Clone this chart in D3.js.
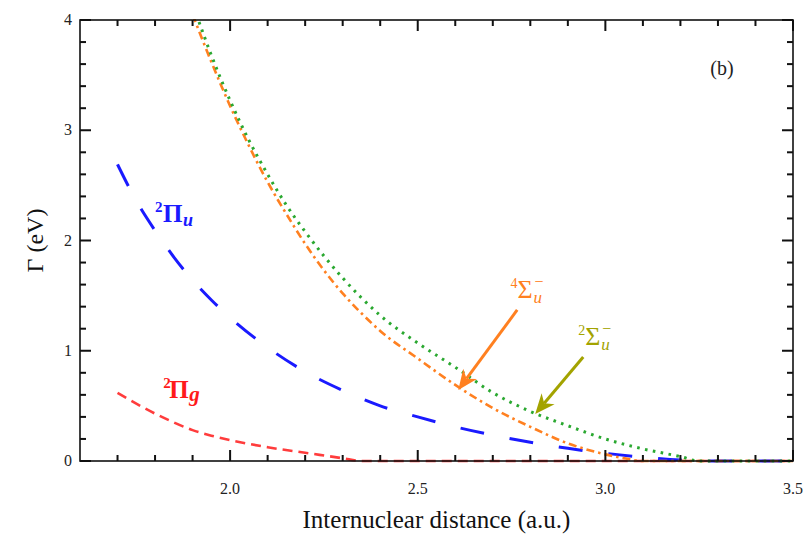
<!DOCTYPE html>
<html>
<head>
<meta charset="utf-8">
<script src="https://cdn.jsdelivr.net/npm/d3@7"></script>
<style>
  html, body { margin: 0; padding: 0; background: #fff; }
  svg { display: block; font-family: "Liberation Serif", "Times New Roman", serif; }
</style>
</head>
<body>
<svg id="chart" width="811" height="538"></svg>
<script>
// Autoionization width Γ (eV) versus internuclear distance R (a.u.)

// ²Πu
const piU_R     = [1.70, 1.75, 1.80, 1.85, 1.90, 1.95, 2.00, 2.10, 2.20, 2.30, 2.40, 2.50, 2.60, 2.70, 2.80, 2.90, 3.00, 3.10, 3.20, 3.25, 3.50];
const piU_Gamma = [2.69, 2.36, 2.09, 1.85, 1.64, 1.46, 1.30, 1.03, 0.81, 0.64, 0.50, 0.40, 0.31, 0.235, 0.17, 0.115, 0.07, 0.035, 0.008, 0, 0];

// ²Πg
const piG_R     = [1.70, 1.75, 1.80, 1.85, 1.90, 1.95, 2.00, 2.10, 2.20, 2.30, 2.35, 3.50];
const piG_Gamma = [0.617, 0.52, 0.43, 0.35, 0.28, 0.23, 0.19, 0.125, 0.075, 0.025, 0, 0];

// ⁴Σu⁻
const sigma4_R     = [1.90, 1.95, 2.00, 2.05, 2.10, 2.15, 2.20, 2.25, 2.30, 2.35, 2.40, 2.50, 2.60, 2.70, 2.80, 2.90, 3.00, 3.05, 3.10, 3.50];
const sigma4_Gamma = [4.05, 3.62, 3.22, 2.86, 2.53, 2.24, 1.97, 1.73, 1.52, 1.34, 1.18, 0.93, 0.69, 0.48, 0.31, 0.16, 0.06, 0.025, 0, 0];

// ²Σu⁻
const sigma2_R     = [1.91, 1.95, 2.00, 2.05, 2.10, 2.15, 2.20, 2.25, 2.30, 2.35, 2.40, 2.50, 2.60, 2.70, 2.80, 2.90, 3.00, 3.10, 3.20, 3.25, 3.50];
const sigma2_Gamma = [4.05, 3.68, 3.27, 2.91, 2.60, 2.32, 2.08, 1.86, 1.66, 1.48, 1.32, 1.07, 0.85, 0.62, 0.45, 0.32, 0.20, 0.11, 0.04, 0, 0];

// axis ticks
const xMajorTicks = [2.0, 2.5, 3.0, 3.5];
const xTickLabels = ["2.0", "2.5", "3.0", "3.5"];
const xMinorTicks = [1.7, 1.8, 1.9, 2.1, 2.2, 2.3, 2.4, 2.6, 2.7, 2.8, 2.9, 3.1, 3.2, 3.3, 3.4];
const yMajorTicks = [0, 1, 2, 3, 4];
const yTickLabels = ["0", "1", "2", "3", "4"];
const yMinorTicks = [0.2, 0.4, 0.6, 0.8, 1.2, 1.4, 1.6, 1.8, 2.2, 2.4, 2.6, 2.8, 3.2, 3.4, 3.6, 3.8];

// annotation arrows: [R start, Γ start, R tip, Γ tip]
const arrow4Sigma = [2.765, 1.37, 2.608, 0.644];
const arrow2Sigma = [2.941, 0.943, 2.813, 0.426];

const W = 811, H = 538;
const margin = { left: 80, right: 18, top: 20, bottom: 77 };
const x = d3.scaleLinear().domain([1.6, 3.5]).range([margin.left, W - margin.right]);
const y = d3.scaleLinear().domain([0, 4]).range([H - margin.bottom, margin.top]);
const xL = x(1.6), xR = x(3.5), yB = y(0), yT = y(4);

const svg = d3.select("#chart");

svg.append("defs").append("clipPath").attr("id", "plotClip")
  .append("rect")
  .attr("x", xL).attr("y", yT - 1)
  .attr("width", xR - xL).attr("height", yB - yT + 3);

// ---- tick labels ----
svg.append("g").selectAll("text").data(xMajorTicks).join("text")
  .attr("x", d => x(d)).attr("y", yB + 33)
  .attr("text-anchor", "middle")
  .attr("font-size", 16).attr("fill", "#222")
  .text((d, i) => xTickLabels[i]);

svg.append("g").selectAll("text").data(yMajorTicks).join("text")
  .attr("x", xL - 8).attr("y", d => y(d) + 5)
  .attr("text-anchor", "end")
  .attr("font-size", 16).attr("fill", "#222")
  .text((d, i) => yTickLabels[i]);

// ---- axis titles ----
svg.append("text")
  .attr("x", (xL + xR) / 2).attr("y", 528)
  .attr("text-anchor", "middle").attr("font-size", 25).attr("fill", "#111")
  .text("Internuclear distance (a.u.)");

svg.append("text")
  .attr("transform", `translate(43,${y(2)}) rotate(-90)`)
  .attr("text-anchor", "middle").attr("font-size", 24).attr("fill", "#111")
  .text("Γ (eV)");

svg.append("text")
  .attr("x", 722).attr("y", 75)
  .attr("text-anchor", "middle").attr("font-size", 20).attr("fill", "#222")
  .text("(b)");

// ---- curves ----
const line = d3.line().x(d => x(d[0])).y(d => y(d[1])).curve(d3.curveMonotoneX);
const zip = (a, b) => a.map((v, i) => [v, b[i]]);

const curves = svg.append("g").attr("clip-path", "url(#plotClip)").attr("fill", "none");

curves.append("path").datum(zip(piG_R, piG_Gamma))
  .attr("d", line)
  .attr("stroke", "#ff1a1a").attr("stroke-width", 2.6).attr("stroke-opacity", 0.85)
  .attr("stroke-dasharray", "10,6");

curves.append("path").datum(zip(piU_R, piU_Gamma))
  .attr("d", line)
  .attr("stroke", "#1a1aff").attr("stroke-width", 3)
  .attr("stroke-dasharray", "24,26");

curves.append("path").datum(zip(sigma4_R, sigma4_Gamma))
  .attr("d", line)
  .attr("stroke", "#ff8020").attr("stroke-width", 2.6)
  .attr("stroke-dasharray", "8,4,2.5,4");

curves.append("path").datum(zip(sigma2_R, sigma2_Gamma))
  .attr("d", line)
  .attr("stroke", "#2aa830").attr("stroke-width", 3)
  .attr("stroke-dasharray", "2.6,5.4");

// ---- arrows ----
function arrow(spec, color) {
  const [r0, g0, r1, g1] = spec;
  const ax = x(r0), ay = y(g0), bx = x(r1), by = y(g1);
  const ang = Math.atan2(by - ay, bx - ax);
  const headLen = 20, headW = 8.5;
  const hx = bx - headLen * Math.cos(ang), hy = by - headLen * Math.sin(ang);
  const nx = -Math.sin(ang), ny = Math.cos(ang);
  const notchX = bx - headLen * 0.7 * Math.cos(ang), notchY = by - headLen * 0.7 * Math.sin(ang);
  svg.append("line")
    .attr("x1", ax).attr("y1", ay).attr("x2", notchX).attr("y2", notchY)
    .attr("stroke", color).attr("stroke-width", 3);
  svg.append("path")
    .attr("d", `M${bx},${by} L${hx + nx * headW},${hy + ny * headW} L${notchX},${notchY} L${hx - nx * headW},${hy - ny * headW} Z`)
    .attr("fill", color);
}
arrow(arrow4Sigma, "#ff8020");
arrow(arrow2Sigma, "#a3a300");

// ---- state labels: one text element per label, pieces placed by tspans ----
function stateLabel(r, g, parts, color, weight) {
  const t = svg.append("text")
    .attr("transform", `translate(${x(r)},${y(g)})`)
    .attr("fill", color).attr("font-weight", weight);
  parts.forEach(p => {
    t.append("tspan").attr("x", p.dx).attr("y", p.dy)
      .attr("font-size", p.size).attr("font-style", p.italic ? "italic" : "normal")
      .text(p.t);
  });
}

stateLabel(1.80, 2.17, [
  { t: "2", dx: 0, dy: -10, size: 15 },
  { t: "Π", dx: 8, dy: 0, size: 25 },
  { t: "u", dx: 28, dy: 4, size: 18, italic: true }
], "#1a1aff", "bold");

stateLabel(1.822, 0.57, [
  { t: "2", dx: 0, dy: -10, size: 15 },
  { t: "Π", dx: 6, dy: 0, size: 25 },
  { t: "g", dx: 26, dy: 3, size: 21, italic: true }
], "#ff1a1a", "bold");

stateLabel(2.747, 1.478, [
  { t: "4", dx: 0, dy: -10, size: 14 },
  { t: "Σ", dx: 7, dy: 0, size: 26 },
  { t: "−", dx: 24, dy: -11, size: 16 },
  { t: "u", dx: 23, dy: 5, size: 17, italic: true }
], "#ff8020", "normal");

stateLabel(2.928, 1.052, [
  { t: "2", dx: 0, dy: -10, size: 14 },
  { t: "Σ", dx: 7, dy: 0, size: 26 },
  { t: "−", dx: 24, dy: -11, size: 16 },
  { t: "u", dx: 23, dy: 5, size: 17, italic: true }
], "#a3a300", "normal");

// ---- frame and inward ticks on all four sides (drawn last) ----
const tickLayer = svg.append("g").attr("class", "ticks");
const tickSpecs = [
  ...xMinorTicks.map(v => ({ axis: "x", v, len: 6 })),
  ...xMajorTicks.map(v => ({ axis: "x", v, len: 11 })),
  ...yMinorTicks.map(v => ({ axis: "y", v, len: 6 })),
  ...yMajorTicks.map(v => ({ axis: "y", v, len: 11 }))
];
tickSpecs.forEach(s => {
  if (s.axis === "x") {
    const px = x(s.v);
    tickLayer.append("rect").attr("x", px - 1).attr("y", yB - s.len).attr("width", 2).attr("height", s.len).attr("fill", "#111");
    tickLayer.append("rect").attr("x", px - 1).attr("y", yT).attr("width", 2).attr("height", s.len).attr("fill", "#111");
  } else {
    const py = y(s.v);
    tickLayer.append("rect").attr("x", xL).attr("y", py - 1).attr("width", s.len).attr("height", 2).attr("fill", "#111");
    tickLayer.append("rect").attr("x", xR - s.len).attr("y", py - 1).attr("width", s.len).attr("height", 2).attr("fill", "#111");
  }
});

svg.append("rect")
  .attr("x", xL).attr("y", yT)
  .attr("width", xR - xL).attr("height", yB - yT)
  .attr("fill", "none").attr("stroke", "#111").attr("stroke-width", 1.6);
</script>
</body>
</html>
